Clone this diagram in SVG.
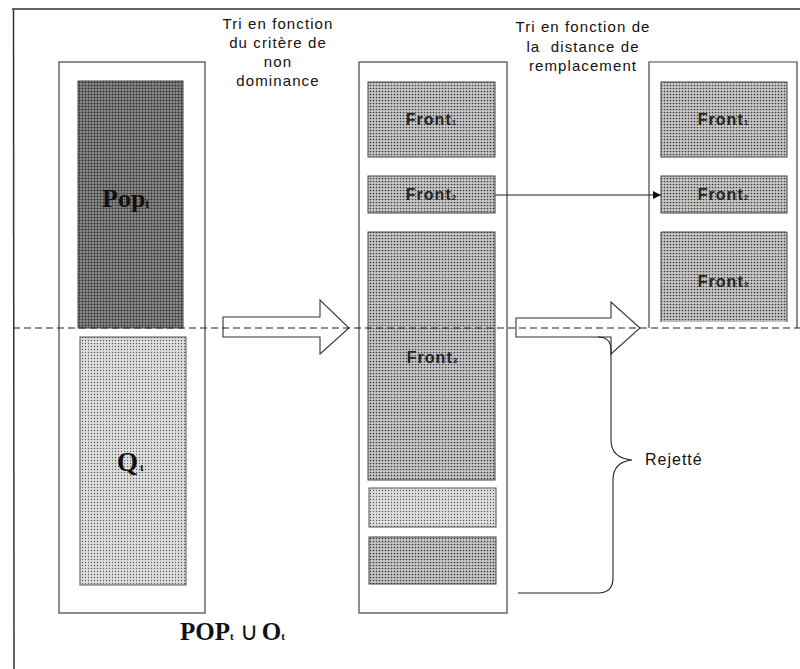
<svg xmlns="http://www.w3.org/2000/svg" width="800" height="669" viewBox="0 0 800 669">
<defs>
<pattern id="pDark" width="3" height="3" patternUnits="userSpaceOnUse">
<rect width="3" height="3" fill="#8c8c8c"/>
<circle cx="1.5" cy="1.5" r="1" fill="#2a2a2a"/>
</pattern>
<pattern id="pMid" width="3" height="3" patternUnits="userSpaceOnUse">
<rect width="3" height="3" fill="#c8c8c8"/>
<circle cx="1.5" cy="1.5" r="0.85" fill="#3a3a3a"/>
</pattern>
<pattern id="pLight" width="3" height="3" patternUnits="userSpaceOnUse">
<rect width="3" height="3" fill="#dedede"/>
<circle cx="1.5" cy="1.5" r="0.7" fill="#555"/>
</pattern>
<marker id="ah" viewBox="0 0 10 10" refX="10" refY="5" markerWidth="10" markerHeight="8" markerUnits="userSpaceOnUse" orient="auto">
<path d="M0,0 L10,5 L0,10 z" fill="#111"/>
</marker>
<style>
.frame{fill:#fff;stroke:#444;stroke-width:1.2}
.dark{fill:url(#pDark);stroke:#444;stroke-width:1}
.mid{fill:url(#pMid);stroke:#444;stroke-width:1}
.light{fill:url(#pLight);stroke:#555;stroke-width:1}
.lbl{font-family:"Liberation Sans",Arial,sans-serif;font-size:15px;fill:#111;text-anchor:middle;letter-spacing:1.1px}
.fr{font-family:"Liberation Sans",Arial,sans-serif;font-weight:bold;font-size:16px;fill:#262626;text-anchor:middle;letter-spacing:1px}
.sub{font-size:8px;letter-spacing:0}
.ser{font-family:"Liberation Serif","Times New Roman",serif;font-weight:bold;fill:#111}
.blk{fill:#fff;stroke:#333;stroke-width:1.1}
.line{fill:none;stroke:#222;stroke-width:1.1}
</style>
</defs>
<rect width="800" height="669" fill="#fff"/>
<g id="border">
<line x1="12" y1="9" x2="800" y2="9" stroke="#333" stroke-width="1.5"/>
<line x1="13.5" y1="9" x2="14" y2="669" stroke="#333" stroke-width="1.5"/>
</g>
<g id="labels-top">
<text class="lbl" x="278" y="29">Tri en fonction</text>
<text class="lbl" x="278" y="48">du critère de</text>
<text class="lbl" x="278" y="67">non</text>
<text class="lbl" x="278" y="86">dominance</text>
<text class="lbl" x="583" y="32">Tri en fonction de</text>
<text class="lbl" x="583" y="52" xml:space="preserve">la  distance de</text>
<text class="lbl" x="583" y="71">remplacement</text>
</g>
<g id="col-left">
<rect class="frame" x="59" y="62" width="146" height="551"/>
<g id="pop">
<rect class="dark" x="78" y="81" width="105" height="247"/>
<text class="ser" x="102" y="207" font-size="26">Pop<tspan font-size="12" dy="1">t</tspan></text>
</g>
<g id="q">
<rect class="light" x="80" y="337" width="106" height="248"/>
<text class="ser" x="117" y="471" font-size="27">Q<tspan font-size="11" dx="2">t</tspan></text>
</g>
</g>
<text id="union" class="ser" x="180" y="640" font-size="25">POP<tspan font-size="11">t</tspan><tspan dx="6" font-weight="normal">∪</tspan><tspan dx="4">O</tspan><tspan font-size="11">t</tspan></text>
<g id="col-mid">
<rect class="frame" x="359" y="62" width="148" height="551"/>
<g id="m-front1">
<rect class="mid" x="368" y="82" width="127" height="75"/>
<text class="fr" x="431" y="125">Front<tspan class="sub">1</tspan></text>
</g>
<g id="m-front2">
<rect class="mid" x="368" y="176" width="127" height="37"/>
<text class="fr" x="431" y="200">Front<tspan class="sub">2</tspan></text>
</g>
<g id="m-front3">
<rect class="mid" x="368" y="232" width="127" height="248"/>
<text class="fr" x="432" y="363">Front<tspan class="sub">3</tspan></text>
</g>
<g id="m-front4">
<rect class="light" x="369" y="488" width="127" height="39"/>
</g>
<g id="m-front5">
<rect class="mid" x="369" y="537" width="127" height="47"/>
</g>
</g>
<g id="col-right">
<path class="frame" d="M649,328 L649,62 L797,62 L797,328"/>
<g id="r-front1">
<rect class="mid" x="661" y="82" width="126" height="75"/>
<text class="fr" x="723" y="125">Front<tspan class="sub">1</tspan></text>
</g>
<g id="r-front2">
<rect class="mid" x="661" y="176" width="126" height="37"/>
<text class="fr" x="723" y="200">Front<tspan class="sub">2</tspan></text>
</g>
<g id="r-front3">
<path class="mid" d="M661,322 L661,232 L787,232 L787,322"/>
<text class="fr" x="723" y="287">Front<tspan class="sub">3</tspan></text>
</g>
</g>
<g id="connectors">
<path id="arrow1" class="blk" d="M223,317 L320,317 L320,300 L349,328 L320,354 L320,337 L223,337 Z"/>
<path id="arrow2" class="blk" d="M516,318 L611,318 L611,302 L640,328 L611,354 L611,337 L516,337 Z"/>
<line class="line" x1="495" y1="195" x2="661" y2="195" marker-end="url(#ah)"/>
<path id="brace" class="line" d="M598,337 Q611,337 611,350 L611,440 Q611,458 632,460 Q613,462 613,480 L613,578 Q613,593 598,593 L518,593"/>
<line id="dashed" x1="13" y1="328" x2="800" y2="328" stroke="#222" stroke-width="1.2" stroke-dasharray="7,4"/>
</g>
<text id="rejette" x="645" y="465" font-family="Liberation Sans,Arial,sans-serif" font-size="16" letter-spacing="1" fill="#111">Rejetté</text>
</svg>
